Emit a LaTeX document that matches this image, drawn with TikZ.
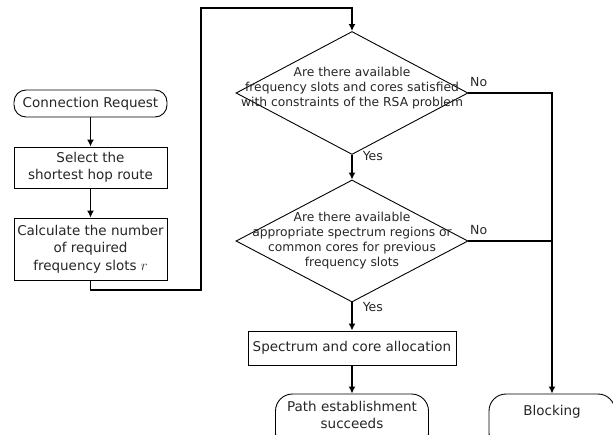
\documentclass[tikz,border=0pt]{standalone}
\usepackage{fontspec}
\setmainfont{DejaVu Sans}
\usepackage{tikz}
\usetikzlibrary{arrows.meta, positioning, shapes.geometric}
\tikzset{
    boxN/.style={draw, line width=0.9pt, rectangle, align=center, inner sep=1pt,
        font=\fontsize{13.5}{17.5}\selectfont, text=black!85},
    termN/.style={boxN, rounded corners=12pt},
    decN/.style={draw, line width=0.9pt, diamond, inner sep=0pt},
    decT/.style={align=center, inner sep=0pt, font=\fontsize{12.3}{15}\selectfont, text=black!85},
    lbl/.style={inner sep=1pt, font=\fontsize{12.5}{15}\selectfont, text=black!85},
    flow/.style={line width=1.5pt, -{Latex[length=7pt,width=7pt]}},
    joinline/.style={line width=1.5pt}
}

\begin{document}
\begin{tikzpicture}[x=1pt, y=-1pt]
    \useasboundingbox (0,0) rectangle (613,434);
    % left column
    \node[termN, minimum width=153pt, minimum height=27pt] (req) at (90.5,103.5) {Connection Request};
    \node[boxN, minimum width=153pt, minimum height=41pt] (sel) at (90.5,167.5) {Select the\\shortest hop route};
    \node[boxN, minimum width=153pt, minimum height=62pt] (slots) at (90.5,249) {Calculate the number\\of required\\frequency slots $r$};
    % decisions
    \node[decN, minimum width=232pt, minimum height=123pt] (rsa) at (352,93) {};
    \node[decT] (rsaT) at (352,88) {Are there available\\frequency slots and cores satisfied\\with constraints of the RSA problem};
    \node[decN, minimum width=232pt, minimum height=122pt] (reg) at (352,241) {};
    \node[decT] (regT) at (352,241) {Are there available\\appropriate spectrum regions or\\common cores for previous\\frequency slots};
    % results
    \node[boxN, minimum width=208pt, minimum height=34pt] (alloc) at (352,348) {Spectrum and core allocation};
    \node[termN, rounded corners=17pt, minimum width=153pt, minimum height=56pt, text depth=14pt] (succ) at (352,422) {Path establishment\\succeeds};
    \node[termN, rounded corners=17pt, minimum width=126pt, minimum height=56pt, text depth=24pt] (block) at (552,422) {Blocking};
    \coordinate (loopB) at (201,290);
    \coordinate (loopT) at (201,8);
    \draw[flow] (req) -- (sel);
    \draw[flow] (sel) -- (slots);
    \draw[flow] (slots.south) |- (loopB) -- (loopT) -| (rsa.north);
    \draw[flow] (rsa.south) node[lbl, anchor=west, xshift=9pt, yshift=-1pt] {Yes} -- (reg.north);
    \draw[flow] (rsa.east) node[lbl, anchor=south west, yshift=5pt] {No} -| (block.north);
    \draw[joinline] (reg.east) node[lbl, anchor=south west, yshift=5pt] {No} -- (reg.east -| block.north);
    \draw[flow] (reg.south) node[lbl, anchor=west, xshift=9pt, yshift=-5pt] {Yes} -- (alloc.north);
    \draw[flow] (alloc) -- (succ);
\end{tikzpicture}
\end{document}
